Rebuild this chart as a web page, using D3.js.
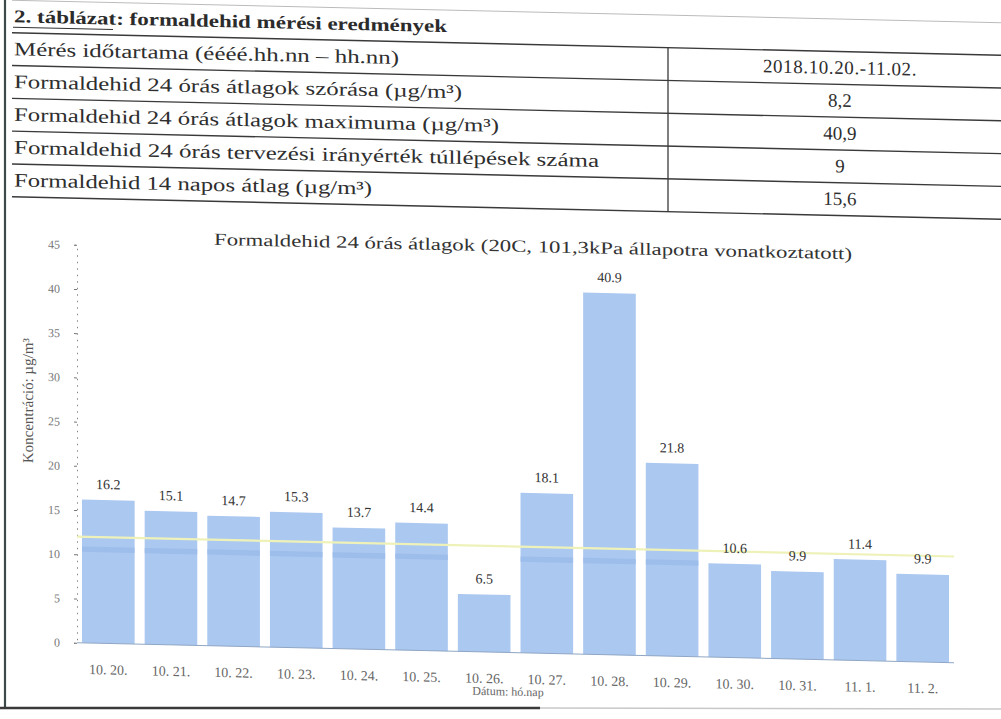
<!DOCTYPE html>
<html>
<head>
<meta charset="utf-8">
<script src="https://cdn.jsdelivr.net/npm/d3@7"></script>
<style>
  body { margin: 0; background: #fff; }
  svg { display: block; }
  text { font-family: "Liberation Serif", "Times New Roman", serif; }
</style>
</head>
<body>
<script>
// table content
const tableTitle = "2. táblázat: formaldehid mérési eredmények";
const rowLabels = [
  "Mérés időtartama (éééé.hh.nn – hh.nn)",
  "Formaldehid 24 órás átlagok szórása (µg/m³)",
  "Formaldehid 24 órás átlagok maximuma (µg/m³)",
  "Formaldehid 24 órás tervezési irányérték túllépések száma",
  "Formaldehid 14 napos átlag (µg/m³)"
];
const rowValues = ["2018.10.20.-11.02.", "8,2", "40,9", "9", "15,6"];

// chart content
const chartTitle = "Formaldehid 24 órás átlagok (20C, 101,3kPa állapotra vonatkoztatott)";
const days = ["10. 20.", "10. 21.", "10. 22.", "10. 23.", "10. 24.", "10. 25.", "10. 26.",
              "10. 27.", "10. 28.", "10. 29.", "10. 30.", "10. 31.", "11. 1.", "11. 2."];
const values = [16.2, 15.1, 14.7, 15.3, 13.7, 14.4, 6.5, 18.1, 40.9, 21.8, 10.6, 9.9, 11.4, 9.9];
const yTicks = [0, 5, 10, 15, 20, 25, 30, 35, 40, 45];
const guideValue = 12;
const yTitle = "Koncentráció: µg/m³";
const xTitle = "Dátum: hó.nap";

const width = 1001, height = 719;

const svg = d3.select("body").append("svg")
    .attr("width", width)
    .attr("height", height)
    .attr("viewBox", [0, 0, width, height]);

svg.append("rect").attr("width", width).attr("height", height).attr("fill", "#fff");

// the scanned page is slightly tilted, so everything is drawn in a sheared group
const page = svg.append("g").attr("transform", "skewY(1.3)");

// ---- table ----
const rowTop = 32.5, rowH = 32.8, colX = 668;
const labelWidths = [385, 448, 485, 585, 358];

page.append("line")
    .attr("x1", 12).attr("x2", width).attr("y1", 0).attr("y2", 0)
    .attr("stroke", "#bbb").attr("stroke-width", 1);

page.append("text")
    .attr("x", 14).attr("y", 22)
    .attr("font-size", 18).attr("font-weight", "bold")
    .attr("fill", "#2b2b2b")
    .attr("textLength", 433).attr("lengthAdjust", "spacingAndGlyphs")
    .text(tableTitle);

page.append("line")
    .attr("x1", 13).attr("x2", 113).attr("y1", 27).attr("y2", 27)
    .attr("stroke", "#333").attr("stroke-width", 1);

page.append("g")
    .selectAll("line")
    .data(d3.range(rowLabels.length + 1))
    .join("line")
      .attr("x1", 12).attr("x2", width)
      .attr("y1", i => rowTop + i * rowH).attr("y2", i => rowTop + i * rowH)
      .attr("stroke", "#3a3a3a").attr("stroke-width", 1.4);

page.append("line")
    .attr("x1", colX).attr("x2", colX)
    .attr("y1", rowTop).attr("y2", rowTop + rowLabels.length * rowH)
    .attr("stroke", "#3a3a3a").attr("stroke-width", 1.3);

page.append("g")
    .selectAll("text")
    .data(rowLabels)
    .join("text")
      .attr("x", 14)
      .attr("y", (d, i) => rowTop + i * rowH + rowH / 2 + 6)
      .attr("font-size", 19)
      .attr("fill", "#2e2e2e")
      .attr("textLength", (d, i) => labelWidths[i])
      .attr("lengthAdjust", "spacingAndGlyphs")
      .text(d => d);

page.append("g")
    .selectAll("text")
    .data(rowValues)
    .join("text")
      .attr("x", 840)
      .attr("y", (d, i) => rowTop + i * rowH + rowH / 2 + 6)
      .attr("text-anchor", "middle")
      .attr("font-size", 19)
      .attr("fill", "#2e2e2e")
      .attr("letter-spacing", (d, i) => i === 0 ? 0.6 : 0)
      .text(d => d);

// ---- bar chart ----
const x = d3.scaleBand()
    .domain(days)
    .range([77, 954])
    .paddingInner(0.16)
    .paddingOuter(0.08);

const y = d3.scaleLinear()
    .domain([0, 45])
    .range([641, 243]);

page.append("text")
    .attr("x", 533).attr("y", 240)
    .attr("text-anchor", "middle")
    .attr("font-size", 17)
    .attr("fill", "#333")
    .attr("textLength", 638).attr("lengthAdjust", "spacingAndGlyphs")
    .text(chartTitle);

// y axis: dotted line with tick labels
const yAxis = page.append("g")
    .attr("transform", `translate(${x.range()[0]},0)`)
    .call(d3.axisLeft(y).tickValues(yTicks).tickSize(3).tickPadding(14));
yAxis.select(".domain")
    .attr("stroke", "#888").attr("stroke-dasharray", "1.5,5");
yAxis.selectAll(".tick line").attr("stroke", "#777");
yAxis.selectAll(".tick text")
    .attr("font-family", "Liberation Serif, serif")
    .attr("font-size", 12)
    .attr("fill", "#777");

page.append("text")
    .attr("transform", `translate(33,${(y(0) + y(45)) / 2 - 42}) rotate(-90)`)
    .attr("text-anchor", "middle")
    .attr("font-size", 15)
    .attr("fill", "#555")
    .text(yTitle);

// bars
page.append("g")
    .selectAll("rect")
    .data(values)
    .join("rect")
      .attr("x", (d, i) => x(days[i]))
      .attr("y", d => y(d))
      .attr("width", x.bandwidth())
      .attr("height", d => y(0) - y(d))
      .attr("fill", "#abc8f0");

// darker band printed inside the taller bars, just under the guide line
page.append("g")
    .selectAll("rect")
    .data(values.map((v, i) => [v, i]).filter(([v]) => v > guideValue))
    .join("rect")
      .attr("x", ([, i]) => x(days[i]))
      .attr("y", y(10.9))
      .attr("width", x.bandwidth())
      .attr("height", y(10.3) - y(10.9))
      .attr("fill", "#97b8e8")
      .attr("opacity", 0.7);

// guide value line
page.append("line")
    .attr("x1", x.range()[0]).attr("x2", x.range()[1])
    .attr("y1", y(guideValue)).attr("y2", y(guideValue))
    .attr("stroke", "#eef2b8").attr("stroke-width", 2.2);

// baseline
page.append("line")
    .attr("x1", x.range()[0]).attr("x2", x.range()[1])
    .attr("y1", y(0)).attr("y2", y(0))
    .attr("stroke", "#8fa6c4").attr("stroke-width", 1);

// value labels
page.append("g")
    .selectAll("text")
    .data(values)
    .join("text")
      .attr("x", (d, i) => x(days[i]) + x.bandwidth() / 2)
      .attr("y", d => y(d) - 11)
      .attr("text-anchor", "middle")
      .attr("font-size", 14)
      .attr("fill", "#333")
      .text(d => d3.format(".1f")(d));

// x axis labels
page.append("g")
    .selectAll("text")
    .data(days)
    .join("text")
      .attr("x", d => x(d) + x.bandwidth() / 2)
      .attr("y", 672)
      .attr("text-anchor", "middle")
      .attr("font-size", 14)
      .attr("fill", "#666")
      .text(d => d);

page.append("text")
    .attr("x", 508).attr("y", 684)
    .attr("text-anchor", "middle")
    .attr("font-size", 12)
    .attr("fill", "#666")
    .text(xTitle);

// page frame of the scan: left border and bottom rule
svg.append("line")
    .attr("x1", 5).attr("x2", 5).attr("y1", 0).attr("y2", 708)
    .attr("stroke", "#3d4a4a").attr("stroke-width", 2.2);

svg.append("line")
    .attr("x1", 0).attr("x2", 540).attr("y1", 708).attr("y2", 708)
    .attr("stroke", "#3a3a3a").attr("stroke-width", 2.5);
svg.append("line")
    .attr("x1", 540).attr("x2", width).attr("y1", 708).attr("y2", 709)
    .attr("stroke", "#c8c8c8").attr("stroke-width", 1.5);
</script>
</body>
</html>
